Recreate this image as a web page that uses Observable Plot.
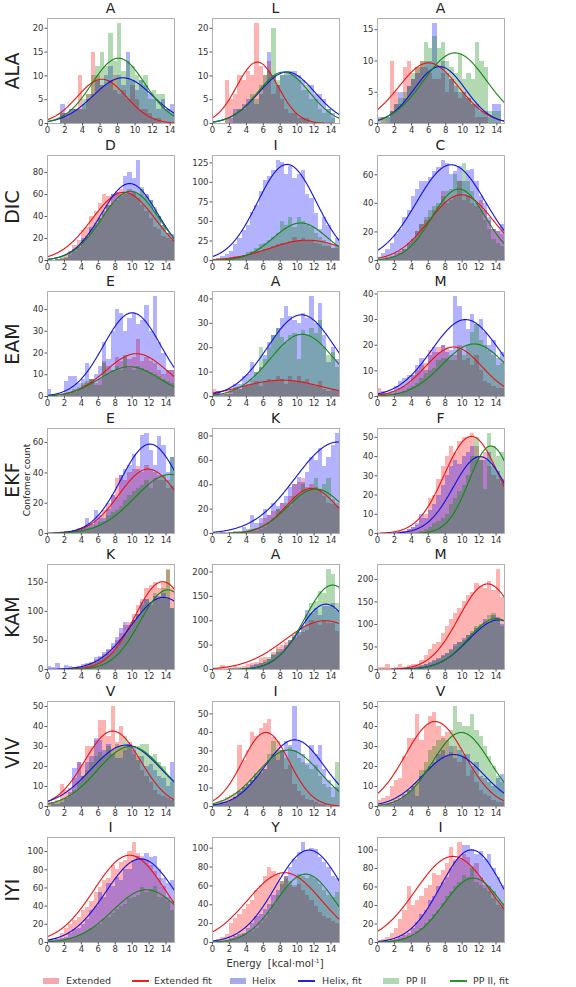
<!DOCTYPE html>
<html>
<head>
<meta charset="utf-8">
<script src="https://cdn.jsdelivr.net/npm/d3@7"></script>
<script src="https://cdn.jsdelivr.net/npm/@observablehq/plot@0.6"></script>
<style>
  html, body { margin: 0; padding: 0; background: #fff; }
  #chart { position: relative; width: 576px; height: 987px; background: #fff; font-family: "DejaVu Sans", sans-serif; color: #222; overflow: hidden; }
  .abs { position: absolute; white-space: nowrap; }
  .ttl { font-size: 14px; text-align: center; width: 60px; line-height: 14px; }
  .rowlab { font-size: 19px; transform: translate(-50%, -50%) rotate(-90deg); }
  .ylab { font-size: 9px; transform: translate(-50%, -50%) rotate(-90deg); }
  .leg { font-size: 9.5px; color: #333; }
</style>
</head>
<body>
<div id="chart"></div>
<script>
// ---------- data ----------
const rowLabels = ["ALA", "DIC", "EAM", "EKF", "KAM", "VIV", "IYI"];
const titles = ["A","L","A", "D","I","C", "E","A","M", "E","K","F", "K","A","M", "V","I","V", "I","Y","I"];
const seriesNames = ["Extended", "Helix", "PP II"];
const fitNames = ["Extended fit", "Helix, fit", "PP II, fit"];
const xTicks = [0, 2, 4, 6, 8, 10, 12, 14];
const xMax = [14.5, 15, 14.9, 15, 15, 15, 15, 15, 15, 15, 15, 15, 15, 15, 15, 15, 15, 15, 15, 15, 15];
const yTickStep = [5, 5, 5, 20, 25, 20, 10, 10, 10, 20, 20, 10, 50, 50, 50, 10, 10, 10, 20, 20, 20];
const binWidth = 0.5;

// histogram counts per panel (bins of 0.5 starting at 0)
const extended = [
  [0,0,0,2,2,3,3,10,3,6,15,10,8,8,9,10,6,7,5,8,5,3,3,2,1,1,0,0,0],
  [0,0,0,9,5,6,10,9,11,10,21,12,10,13,6,8,5,3,2,2,1,1,1,0,0,0,0,0,0],
  [0,1,0,10,5,3,9,10,7,9,10,9,8,7,7,8,5,7,5,4,5,4,3,1,1,1,0,0,0],
  [0,0,1,2,5,8,14,18,27,30,40,45,52,60,58,60,62,65,60,65,62,56,50,45,38,30,28,22,20,18],
  [0,1,2,3,4,5,5,6,8,10,12,12,14,15,18,20,22,22,24,30,26,28,25,26,22,20,18,18,16,15],
  [0,1,2,3,5,6,8,12,15,20,25,28,30,35,38,48,40,42,45,55,42,45,40,38,42,35,28,22,20,18],
  [0,0,0,1,1,2,2,3,5,6,8,6,8,16,14,12,18,16,19,17,18,26,16,18,16,15,12,10,12,12],
  [3,2,1,2,2,3,3,4,4,5,6,4,6,7,6,8,7,5,8,6,8,6,7,5,4,6,3,2,3,2],
  [3,1,1,1,2,3,4,5,8,10,12,13,18,17,19,20,19,14,16,20,14,15,12,16,10,6,5,4,3,3],
  [0,0,0,1,1,1,2,3,4,5,6,8,10,15,20,25,36,38,35,40,42,44,40,45,42,40,38,35,30,31],
  [0,0,0,0,0,0,0,1,2,3,4,8,12,15,18,20,25,22,30,40,42,45,38,40,38,35,30,25,24,22],
  [0,0,0,0,0,0,1,2,3,4,8,10,18,20,28,35,40,45,42,48,50,50,52,45,40,42,35,30,28,26],
  [0,0,0,1,1,2,3,4,5,8,10,15,20,25,32,40,50,62,75,80,95,110,120,140,145,150,140,150,172,140],
  [2,3,8,5,3,8,5,6,10,12,15,22,25,20,35,45,50,55,60,65,70,75,80,100,95,90,100,95,95,78],
  [5,5,10,3,5,10,5,8,10,12,20,30,45,55,60,80,95,110,125,135,150,165,170,190,185,180,195,175,222,160],
  [2,2,3,11,8,9,14,22,21,30,30,33,43,43,35,50,32,40,30,32,28,25,18,15,12,8,6,5,4,3],
  [1,2,3,5,6,7,33,25,30,40,38,42,45,47,37,35,30,20,22,12,8,6,4,3,2,1,1,0,0,0],
  [3,4,5,10,13,14,25,34,34,46,33,40,45,47,40,35,37,27,30,22,25,15,18,12,8,6,5,3,2,2],
  [3,4,6,10,15,20,24,28,35,38,45,55,60,68,70,85,80,88,90,100,110,98,95,90,85,78,70,62,50,45],
  [2,3,5,8,20,25,30,35,40,45,55,60,70,80,75,72,65,70,60,58,62,55,50,45,38,32,28,25,22,20],
  [2,3,5,10,15,25,35,60,40,45,50,58,62,75,72,78,85,103,90,108,95,92,80,85,70,62,55,48,40,38]
];
const helix = [
  [0,0,0,4,2,3,3,3,4,5,6,9,8,10,12,7,10,8,15,9,7,9,8,6,5,3,5,3,4],
  [0,0,0,0,1,3,3,4,5,5,4,6,8,15,10,8,10,11,11,11,10,9,7,8,6,6,5,3,2],
  [1,0,1,2,3,5,4,6,7,8,9,10,10,16,9,10,8,7,6,5,5,4,3,3,2,2,1,3,3],
  [0,0,1,1,2,6,10,12,20,22,30,34,38,45,50,60,62,60,76,80,75,91,65,60,55,45,40,32,25,24],
  [0,2,5,8,12,20,28,38,45,62,70,88,102,108,115,128,125,110,120,105,110,115,85,80,60,40,55,45,20,28],
  [2,5,8,12,18,22,30,35,45,50,55,55,58,62,65,70,68,60,62,66,55,63,64,55,45,40,30,22,20,25],
  [3,1,0,1,7,9,9,6,8,15,8,10,14,25,17,30,40,38,30,36,38,33,35,42,30,46,25,20,12,12],
  [1,2,1,1,3,5,5,8,9,14,10,12,17,22,25,28,32,37,33,31,30,34,32,41,30,38,25,14,20,15],
  [1,2,1,2,4,6,7,8,8,12,15,10,16,19,17,20,17,18,39,35,30,26,32,28,30,25,20,22,15,17],
  [0,0,0,0,1,1,2,2,3,10,6,15,12,10,16,25,24,38,42,45,52,42,65,66,55,45,64,58,40,50],
  [0,0,1,0,1,2,2,5,3,15,8,12,20,15,25,22,25,30,38,40,46,42,50,62,60,70,55,62,72,82],
  [0,0,0,0,0,1,1,2,3,5,10,8,12,15,20,25,30,35,38,36,40,42,45,40,38,38,42,35,32,28],
  [5,3,10,2,7,5,4,6,8,10,12,20,22,30,35,45,55,70,80,75,85,95,115,120,110,125,125,130,120,105],
  [0,0,0,0,0,0,1,3,5,8,10,12,15,20,28,35,40,50,60,70,75,90,120,115,125,110,130,130,135,120],
  [0,0,0,0,0,1,2,3,4,6,8,12,15,20,25,30,35,45,55,60,68,75,80,90,95,110,105,120,115,100],
  [0,2,1,2,4,7,19,22,15,22,25,34,33,28,31,26,24,24,28,31,30,23,25,20,21,18,15,14,10,22],
  [1,1,2,2,3,5,8,10,12,14,16,18,20,25,28,25,30,35,33,54,35,28,23,33,28,33,20,14,10,10],
  [0,1,1,2,3,4,6,8,10,5,15,18,20,22,26,28,25,30,24,28,26,26,20,22,15,14,12,10,14,16],
  [2,2,3,4,6,10,14,15,20,25,35,40,55,50,65,62,72,68,80,80,90,95,92,98,94,95,80,70,65,68],
  [0,1,1,2,4,6,8,10,15,20,28,30,35,40,50,55,62,70,80,88,95,106,98,100,99,90,85,80,70,68],
  [0,1,1,2,3,5,8,10,15,22,30,35,45,50,60,65,70,80,88,90,105,105,100,95,98,90,95,80,70,62]
];
const ppii = [
  [0,0,0,2,1,2,3,3,5,6,10,12,15,12,19,13,21,11,13,12,10,9,10,5,7,6,6,3,2],
  [0,0,0,1,0,2,3,3,4,6,5,8,10,11,20,9,10,10,10,10,9,7,8,5,5,3,2,3,1],
  [0,1,1,2,3,4,5,6,8,9,10,13,12,14,12,13,10,9,8,11,7,8,7,13,10,9,2,2,2],
  [0,0,1,3,3,5,8,12,18,20,28,32,38,42,50,52,55,58,62,60,62,60,66,58,55,48,40,32,25,20],
  [0,0,1,1,2,3,5,6,10,12,15,20,22,26,30,35,50,45,55,42,55,50,45,42,35,30,25,20,15,18],
  [0,1,1,2,3,5,8,12,15,20,25,30,35,38,40,45,48,50,60,55,68,55,48,40,35,28,22,15,12,10],
  [0,0,0,0,1,2,3,4,6,7,8,5,5,15,10,12,14,12,18,13,12,14,13,12,11,10,9,8,7,6],
  [0,0,0,1,1,2,3,4,5,7,10,20,15,20,25,28,24,22,25,26,15,27,25,28,26,31,20,17,18,12],
  [0,0,0,0,1,1,2,3,4,5,7,9,10,11,14,15,15,16,14,18,16,20,25,28,22,20,18,16,12,13],
  [0,0,0,0,0,1,1,2,3,3,4,5,7,8,12,14,15,18,22,25,28,30,32,35,30,36,35,38,35,50],
  [0,0,0,0,0,0,0,1,1,2,2,3,5,8,12,20,18,25,22,30,32,40,35,36,45,35,40,45,28,25],
  [0,0,0,0,0,0,0,0,0,0,1,2,3,5,6,8,10,15,18,22,25,30,40,50,38,23,52,45,40,42],
  [0,0,0,0,0,0,1,2,3,5,8,12,15,20,25,30,40,52,60,70,85,95,110,120,115,130,120,140,170,105],
  [0,0,0,0,0,0,1,2,3,5,8,12,18,25,30,40,35,45,55,65,75,85,110,135,140,160,155,205,195,135],
  [0,0,0,0,0,0,1,2,3,5,7,10,14,18,22,28,35,42,50,60,65,75,85,95,100,105,120,125,110,95],
  [1,1,2,3,4,5,8,12,15,18,22,25,27,25,30,28,31,30,35,30,26,30,31,31,25,26,22,20,15,12],
  [1,1,1,2,3,5,8,10,12,14,18,20,20,28,35,30,30,26,32,30,26,24,22,20,22,16,12,10,5,24],
  [0,0,1,1,2,3,5,8,10,12,18,22,28,30,33,34,33,38,50,42,40,40,46,38,35,30,25,20,15,12],
  [0,1,1,2,3,4,6,8,10,12,15,18,20,25,28,32,36,40,42,48,50,52,60,55,58,62,50,50,45,35],
  [0,0,0,1,2,3,5,8,10,12,15,20,25,32,40,50,65,68,65,60,72,70,68,70,67,62,55,50,48,53],
  [0,0,0,1,2,3,4,6,8,12,15,20,25,30,35,42,50,55,60,65,72,70,82,65,62,58,60,55,45,42]
];

// Gaussian fit parameters: [amplitude, mean, sigma]
const extendedFit = [
  [9.3,6.2,2.8],[12.9,5.3,2.43],[9.7,6.0,3.5],
  [62,9.0,3.75],[26,11.2,4.4],[46,9.9,3.8],
  [19.7,10.5,3.6],[6.7,8.2,4.7],[19.3,9.0,3.33],
  [42.5,11.9,3.45],[37,11.7,3.0],[50.5,11.1,3.2],
  [151,13.6,3.27],[100,13.3,4.76],[190,13.0,3.4],
  [37.7,7.7,3.3],[40,6.3,2.77],[42.5,6.8,3.5],
  [96,9.7,4.18],[74,8.5,4.36],[93,8.9,4.4]
];
const helixFit = [
  [9.6,8.6,3.4],[10.8,8.8,3.3],[9.1,7.3,3.0],
  [70,9.7,3.33],[123,8.8,3.48],[67,8.7,4.1],
  [38.5,10.0,3.4],[33.5,10.5,3.97],[30,10.4,3.99],
  [59,12.1,3.42],[75,14.8,5.03],[40,12.1,3.13],
  [124,13.7,3.83],[134,13.4,3.12],[110,14.3,3.5],
  [30.7,9.3,4.16],[36,9.7,3.5],[26,9.0,3.6],
  [92,11.0,4.1],[98,11.4,3.95],[100,11.1,3.66]
];
const ppiiFit = [
  [13.7,8.1,3.05],[10.8,8.4,3.07],[11.3,9.1,3.7],
  [63,9.8,3.4],[48,10.4,3.2],[50,9.6,3.16],
  [13.7,9.7,3.5],[25.5,10.6,3.78],[20.5,11.4,3.76],
  [39,14.5,4.2],[36.5,12.2,3.3],[45.5,13.4,2.57],
  [137,14.2,3.24],[173,14.2,3.3],[113,14.0,3.3],
  [30,9.8,3.9],[30.5,9.0,3.67],[37,9.9,3.38],
  [58,11.7,4.0],[72.5,11.0,3.48],[69.5,11.3,3.44]
];

// ---------- layout ----------
const colLeft = [47, 212, 377];
const frameW = 127, frameH = 105;
const firstBottom = 123, rowPitch = 136.5;
const mL = 30, mR = 4, mT = 3, mB = 14;
const barColors = ["red", "blue", "green"];
const lineColors = ["#ee1111", "#1111dd", "#118811"];
const chart = document.getElementById("chart");

function addDiv(cls, html, css) {
  const d = document.createElement("div");
  d.className = "abs " + cls;
  d.innerHTML = html;
  Object.assign(d.style, css);
  chart.appendChild(d);
  return d;
}

const allCounts = [extended, helix, ppii];
const allFits = [extendedFit, helixFit, ppiiFit];

for (let r = 0; r < 7; r++) {
  const bottom = firstBottom + rowPitch * r;
  const top = bottom - frameH;
  addDiv("rowlab", rowLabels[r], {left: "12px", top: (top + frameH / 2) + "px"});
  for (let c = 0; c < 3; c++) {
    const p = r * 3 + c;
    const xmax = xMax[p];
    const xs = d3.range(0, xmax + 1e-9, 0.05);
    const bars = [];
    const lines = [];
    let ymaxData = 0;
    for (let s = 0; s < 3; s++) {
      allCounts[s][p].forEach((v, i) => {
        ymaxData = Math.max(ymaxData, v);
        if (v > 0) bars.push({s, x1: i * binWidth, x2: (i + 1) * binWidth, y0: 0, y: v});
      });
      const [a, m, sd] = allFits[s][p];
      xs.forEach(x => {
        const y = a * Math.exp(-((x - m) ** 2) / (2 * sd * sd));
        ymaxData = Math.max(ymaxData, y);
        lines.push({s, x, y});
      });
    }
    const ymax = ymaxData * 1.05;
    const yTicks = d3.range(0, ymax + 1e-9, yTickStep[p]);
    const marks = [];
    for (let s = 0; s < 3; s++) {
      marks.push(Plot.rect(bars.filter(d => d.s === s), {
        x1: "x1", x2: "x2", y1: "y0", y2: "y",
        fill: barColors[s], fillOpacity: 0.3, shapeRendering: "crispEdges"
      }));
    }
    for (let s = 0; s < 3; s++) {
      marks.push(Plot.line(lines.filter(d => d.s === s), {
        x: "x", y: "y", stroke: lineColors[s], strokeWidth: 1.1
      }));
    }
    marks.push(Plot.frame({stroke: "#b0b0b0", strokeWidth: 1}));
    marks.push(Plot.axisX({ticks: xTicks, tickSize: 2.5, tickPadding: 1, label: null, fontSize: 8.5, stroke: "#555"}));
    marks.push(Plot.axisY({ticks: yTicks, tickSize: 2.5, tickPadding: 1.5, label: null, fontSize: 8.5, stroke: "#555"}));
    const svg = Plot.plot({
      width: frameW + mL + mR,
      height: frameH + mT + mB,
      marginLeft: mL, marginRight: mR, marginTop: mT, marginBottom: mB,
      x: {domain: [0, xmax]},
      y: {domain: [0, ymax]},
      style: {fontFamily: "DejaVu Sans, sans-serif", color: "#333", background: "transparent", overflow: "visible"},
      marks
    });
    svg.style.position = "absolute";
    svg.style.left = (colLeft[c] - mL) + "px";
    svg.style.top = (top - mT) + "px";
    chart.appendChild(svg);
    addDiv("ttl", titles[p], {left: (colLeft[c] + frameW / 2 - 30) + "px", top: (top - 17) + "px"});
  }
}

// y label (row 4)
addDiv("ylab", "Confomer count", {left: "27px", top: (firstBottom + rowPitch * 3 - frameH / 2) + "px"});
// x label
addDiv("xlab", "Energy&nbsp;&nbsp;[kcal·mol<sup style=\"font-size:6px\">-1</sup>]", {
  left: "275px", top: "963px", fontSize: "10px", transform: "translate(-50%, -50%)", color: "#333"
});

// legend
const legendItems = [
  {label: seriesNames[0], type: "patch", color: "rgba(235,60,80,0.45)", x: 43, tx: 66},
  {label: fitNames[0], type: "line", color: "#ee2222", x: 132, tx: 154},
  {label: seriesNames[1], type: "patch", color: "rgba(60,60,210,0.45)", x: 230, tx: 252},
  {label: fitNames[1], type: "line", color: "#2222dd", x: 298, tx: 322},
  {label: seriesNames[2], type: "patch", color: "rgba(60,160,60,0.4)", x: 383, tx: 406},
  {label: fitNames[2], type: "line", color: "#229922", x: 450, tx: 473}
];
const legY = 981;
legendItems.forEach(it => {
  if (it.type === "patch") {
    addDiv("", "", {left: it.x + "px", top: (legY - 3) + "px", width: "16px", height: "6px", background: it.color});
  } else {
    addDiv("", "", {left: it.x + "px", top: (legY - 1) + "px", width: "17px", height: "2px", background: it.color});
  }
  addDiv("leg", it.label, {left: it.tx + "px", top: (legY - 6) + "px", lineHeight: "12px"});
});
</script>
</body>
</html>
